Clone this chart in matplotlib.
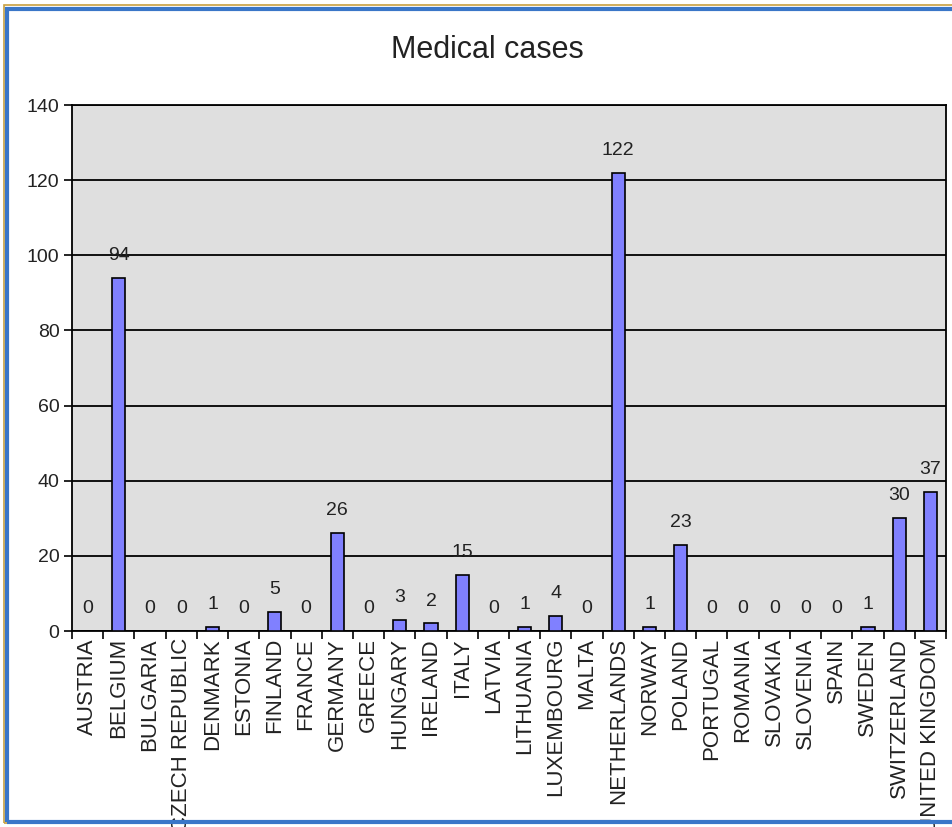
import matplotlib.pyplot as plt
from matplotlib.patches import Rectangle
import numpy as np

countries = ["AUSTRIA", "BELGIUM", "BULGARIA", "CZECH REPUBLIC", "DENMARK", "ESTONIA",
             "FINLAND", "FRANCE", "GERMANY", "GREECE", "HUNGARY", "IRELAND", "ITALY",
             "LATVIA", "LITHUANIA", "LUXEMBOURG", "MALTA", "NETHERLANDS", "NORWAY",
             "POLAND", "PORTUGAL", "ROMANIA", "SLOVAKIA", "SLOVENIA", "SPAIN", "SWEDEN",
             "SWITZERLAND", "UNITED KINGDOM"]
cases = [0, 94, 0, 0, 1, 0, 5, 0, 26, 0, 3, 2, 15, 0, 1, 4, 0, 122, 1, 23,
         0, 0, 0, 0, 0, 1, 30, 37]
yticks = [0, 20, 40, 60, 80, 100, 120, 140]

plt.rcParams['font.family'] = ['Liberation Sans', 'DejaVu Sans']

fig = plt.figure(figsize=(9.53, 8.27), dpi=100)
ax = fig.add_axes([72/953, 1-631/827, (946-72)/953, (631-105)/827])
ax.set_facecolor('#dfdfdf')

x = np.arange(len(countries))
ax.bar(x, cases, width=0.42, color='#8080ff', edgecolor='black', linewidth=1.2, zorder=3)
for xi, v in zip(x, cases):
    ax.annotate(str(v), (xi, v), xytext=(0, 10), textcoords='offset points',
                ha='center', va='bottom', fontsize=14, color='#222222')

ax.set_xlim(-0.5, len(countries) - 0.5)
ax.set_ylim(0, 140)
ax.set_yticks(yticks)
ax.yaxis.grid(True, color='black', linewidth=1.3, zorder=1)
ax.set_axisbelow(True)
ax.tick_params(axis='y', length=6, width=1.2, pad=3, labelsize=14, labelcolor='#222222')

ax.set_xticks(x)
ax.set_xticklabels(countries, rotation=90, fontsize=16, va='top', ha='center',
                   color='#222222')
ax.set_xticks(np.arange(len(countries) + 1) - 0.5, minor=True)
ax.tick_params(axis='x', which='major', length=0, pad=5)
ax.tick_params(axis='x', which='minor', length=6, width=1.2)
for s in ax.spines.values():
    s.set_linewidth(1.3)
    s.set_color('black')

fig.text(487/953, 1-50/827, "Medical cases", ha='center', va='center', fontsize=22,
         color='#222222')

fig.patches.append(Rectangle((4/953, 4/827), 952/953, 818/827, transform=fig.transFigure,
                             fill=False, edgecolor='#c8a040', linewidth=1.2, zorder=10))
fig.patches.append(Rectangle((7.5/953, 5/827), 952/953, 813/827, transform=fig.transFigure,
                             fill=False, edgecolor='#3a76c8', linewidth=3, zorder=11))

fig.savefig('out.png', dpi=100)
